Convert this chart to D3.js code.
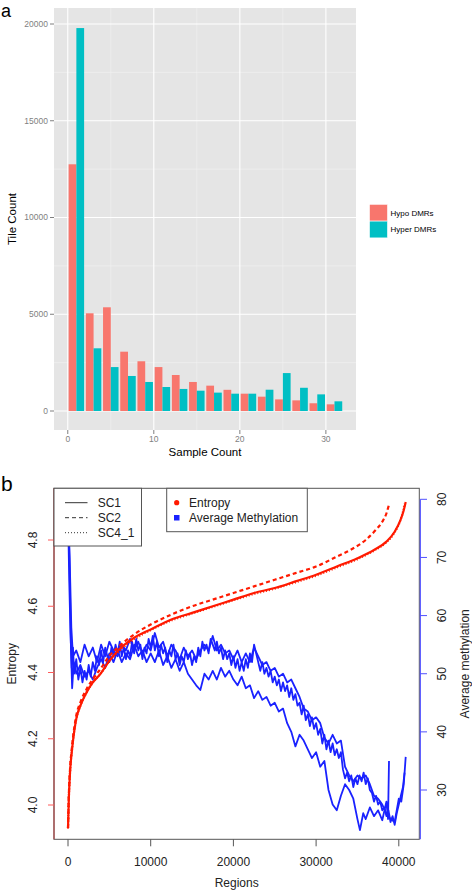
<!DOCTYPE html>
<html><head><meta charset="utf-8">
<script src="https://cdn.jsdelivr.net/npm/d3@7"></script>
<style>body{margin:0;background:#fff}svg{display:block}text{font-family:"Liberation Sans",Arial,Helvetica,sans-serif}</style>
</head><body><svg id="c" width="472" height="892"></svg>
<script>
// ---------- Panel a data ----------
const sampleBins = [1,3,5,7,9,11,13,15,17,19,21,23,25,27,29,31];
const hypoCounts = [12750,5050,5360,3065,2570,2270,1860,1500,1310,1095,895,740,600,550,400,345];
const hyperCounts = [19790,3240,2270,1810,1500,1240,1140,1050,950,895,895,1100,1960,1200,860,500];
const seriesNames = ["Hypo DMRs","Hyper DMRs"];
const seriesColors = ["#F8766D","#00BFC4"];
const xTicksA = [0,10,20,30];
const xMinorA = [5,15,25];
const yTicksA = [0,5000,10000,15000,20000];
const yMinorA = [2500,7500,12500,17500];

// ---------- Panel b data ----------
const entropySC1 = [[0,3.93],[100,4.02],[250,4.10],[500,4.17],[1000,4.26],[1500,4.30],[2250,4.34],[3000,4.37],[3900,4.395],[5000,4.435],[6000,4.465],[8000,4.505],[10000,4.53],[12500,4.56],[15000,4.58],[17500,4.60],[20000,4.62],[22500,4.64],[25000,4.655],[27500,4.675],[30000,4.695],[32500,4.72],[35000,4.745],[37000,4.77],[38500,4.795],[39500,4.825],[40200,4.86],[40600,4.89],[40835,4.915]];
const entropySC2 = [[0,3.93],[100,4.03],[250,4.11],[500,4.18],[1000,4.27],[1500,4.31],[2250,4.35],[3000,4.38],[3900,4.41],[5000,4.45],[6000,4.475],[8000,4.515],[10000,4.545],[12500,4.575],[15000,4.60],[17500,4.62],[20000,4.64],[22500,4.66],[25000,4.68],[27500,4.70],[30000,4.72],[32500,4.75],[34500,4.775],[36000,4.80],[37200,4.83],[38000,4.855],[38500,4.88],[38815,4.907]];
const entropySC4 = [[0,3.93],[100,4.02],[250,4.10],[500,4.17],[1000,4.26],[1500,4.30],[2250,4.34],[3000,4.37],[3900,4.395],[5000,4.435],[6000,4.46],[8000,4.50],[10000,4.528],[12500,4.557],[15000,4.578],[17500,4.598],[20000,4.618],[22500,4.637],[25000,4.653],[27500,4.672],[30000,4.692],[32500,4.717],[35000,4.742],[37000,4.768],[38500,4.793],[39500,4.823],[40200,4.86],[40500,4.885],[40700,4.91]];
const methSC1 = [[0,79],[200,70],[400,58],[600,53],[1000,54],[1500,52],[2000,55],[2500,53],[3000,54.5],[3500,52],[4000,55],[4500,53],[5000,55.5],[5500,54],[6000,53],[6500,55],[7000,54],[7500,56],[8000,54],[8500,55.5],[9000,53.5],[9500,55],[10000,54],[10500,57],[11000,54.5],[11500,55.5],[12000,53],[12500,55],[13000,54],[13500,52.5],[14000,54.5],[14500,53],[15000,54],[15500,52.5],[16000,54],[16500,55],[17000,54],[17500,56.5],[18000,54],[18500,55],[19000,53.5],[19500,54],[20000,52.5],[20500,54],[21000,52],[21500,53.5],[22000,52],[22500,54.5],[23000,53],[23500,51.5],[24000,52],[24500,50.5],[25000,51],[25500,49.5],[26000,50],[26500,48.5],[27000,49],[27500,47.5],[28000,46],[28500,44],[29000,43.5],[29500,42],[30000,42.5],[30500,41.5],[31000,39],[31500,38],[32000,39.5],[32500,38],[33000,38.5],[33500,34],[34000,32.5],[34500,31.5],[35000,32.5],[35500,32],[36000,32.5],[36500,31],[37000,29],[37500,28.5],[38000,27.5],[38500,26],[39000,25],[39500,24.5],[40000,28.5],[40300,28],[40600,31],[40835,35.7]];
const methSC2 = [[0,80],[200,68],[350,55],[500,47.5],[700,52],[1000,50],[1500,51.5],[2000,49.5],[2500,50.5],[3000,49],[3500,51],[4000,52.5],[4500,51],[5000,53.5],[5500,52],[6000,54],[6500,52],[7000,53.5],[7500,52.5],[8000,55],[8500,53],[9000,54],[9500,52],[10000,53.5],[10500,52],[11000,54],[11500,51.5],[12000,53],[12500,51],[13000,52.5],[13500,50.5],[14000,52],[14500,50],[15000,49],[15500,48],[16000,47.2],[16500,50],[17000,49],[17500,50.5],[18000,49],[18500,51],[19000,49.5],[19500,50.5],[20000,49],[20500,48],[21000,49.5],[21500,47.5],[22000,48],[22500,45.8],[23000,47],[23500,45.5],[24000,46],[24500,44.5],[25000,45],[25500,43.5],[26000,44],[26500,41.5],[27000,40],[27500,37.5],[28000,39.5],[28500,38.5],[29000,37],[29500,35.5],[30000,36.5],[30500,34],[31000,35],[31500,30],[32000,27.5],[32500,26.5],[33000,29],[33500,31],[34000,30],[34500,28.5],[35000,25],[35300,23.1],[35700,26],[36000,25],[36500,27],[37000,25.5],[37500,26.5],[38000,24.8],[38500,28],[38700,25],[38815,35]];
const methSC4 = [[0,78],[150,66],[300,57],[450,51],[600,54.5],[750,50],[1000,52.5],[1250,49],[1500,51],[1750,48.5],[2000,50.5],[2250,49],[2500,51.5],[2750,49.5],[3000,52],[3250,50.5],[3500,53],[3750,51.5],[4000,54],[4250,52],[4500,54.5],[4750,53],[5000,52],[5250,54.5],[5500,53],[5750,55],[6000,53.5],[6250,55.5],[6500,53],[6750,54.5],[7000,52.5],[7250,54],[7500,53],[7750,55.5],[8000,53.5],[8250,56],[8500,54],[8750,55],[9000,52.5],[9250,54.5],[9500,53.5],[9750,56],[10000,54.5],[10250,56.5],[10500,54],[10750,55.5],[11000,53],[11250,55],[11500,53.5],[11750,54.5],[12000,52],[12250,54],[12500,53],[12750,55],[13000,52.5],[13250,53.5],[13500,51.5],[13750,53],[14000,52],[14250,54],[14500,52.5],[14750,53.5],[15000,51.5],[15250,53],[15500,52],[15750,54.5],[16000,53],[16250,55.5],[16500,54],[16750,55],[17000,53.5],[17250,56],[17500,55],[17750,54],[18000,55.5],[18250,53.5],[18500,54.5],[18750,52.5],[19000,54],[19250,52.5],[19500,53.5],[19750,51.5],[20000,53],[20250,51],[20500,52.5],[20750,50.5],[21000,52],[21250,50.5],[21500,52.5],[21750,51],[22000,53.5],[22250,52],[22500,55],[22750,53.5],[23000,52],[23250,50.5],[23500,52],[23750,50],[24000,51],[24250,49.5],[24500,50.5],[24750,48.5],[25000,49.5],[25250,48],[25500,49],[25750,47],[26000,48.5],[26250,47],[26500,48],[26750,46],[27000,47.5],[27250,45.5],[27500,46.5],[27750,44.5],[28000,45],[28250,43],[28500,44.5],[28750,42],[29000,43],[29250,41],[29500,42.5],[29750,40.5],[30000,41.5],[30250,39.5],[30500,40.5],[30750,38],[31000,39.5],[31250,37],[31500,38.5],[31750,36.5],[32000,38],[32250,36],[32500,37],[32750,35.5],[33000,36.5],[33250,33.5],[33500,32],[33750,33],[34000,31.5],[34250,32.5],[34500,30.5],[34750,32],[35000,31],[35250,32.5],[35500,31.5],[35750,33],[36000,31],[36250,32],[36500,30],[36750,29.5],[37000,28],[37250,29],[37500,27.5],[37750,28],[38000,26.5],[38250,27],[38500,25.5],[38750,26.5],[39000,24.5],[39250,25.5],[39500,24],[39750,26],[40000,27.5],[40250,29],[40500,30.5],[40700,33]];
const sampleNames = ["SC1","SC2","SC4_1"];
const sampleDash = [null,"4,3","1,2"];
const measureNames = ["Entropy","Average Methylation"];
const xTicksB = [0,10000,20000,30000,40000];
const yTicksEntropy = [4.0,4.2,4.4,4.6,4.8];
const yTicksMeth = [30,40,50,60,70,80];

const svg = d3.select("#c");

// ================= Panel a =================
const pa = {l:54, r:356, t:8, b:430};
const xa = d3.scaleLinear().domain([-1.6,33.5]).range([pa.l,pa.r]);
const ya = d3.scaleLinear().domain([0,20000]).range([411,24]);
svg.append("text").attr("x",1).attr("y",16.5).attr("font-size",18).text("a");
svg.append("rect").attr("x",pa.l).attr("y",pa.t).attr("width",pa.r-pa.l).attr("height",pa.b-pa.t).attr("fill","#e5e5e5");
const ga = svg.append("g");
yMinorA.forEach(v=>ga.append("line").attr("x1",pa.l).attr("x2",pa.r).attr("y1",ya(v)).attr("y2",ya(v)).attr("stroke","#f2f2f2").attr("stroke-width",0.6));
xMinorA.forEach(v=>ga.append("line").attr("y1",pa.t).attr("y2",pa.b).attr("x1",xa(v)).attr("x2",xa(v)).attr("stroke","#f2f2f2").attr("stroke-width",0.6));
yTicksA.forEach(v=>ga.append("line").attr("x1",pa.l).attr("x2",pa.r).attr("y1",ya(v)).attr("y2",ya(v)).attr("stroke","#fff").attr("stroke-width",1.1));
xTicksA.forEach(v=>ga.append("line").attr("y1",pa.t).attr("y2",pa.b).attr("x1",xa(v)).attr("x2",xa(v)).attr("stroke","#fff").attr("stroke-width",1.1));
const barW = 0.9;
[hypoCounts,hyperCounts].forEach((vals,si)=>{
  ga.selectAll(null).data(sampleBins).enter().append("rect")
    .attr("x",d=> si===0 ? xa(d-barW) : xa(d))
    .attr("width",xa(barW)-xa(0))
    .attr("y",(d,i)=>ya(vals[i]))
    .attr("height",(d,i)=>ya(0)-ya(vals[i]))
    .attr("fill",seriesColors[si]);
});
// axes
const axA = svg.append("g").attr("font-size",8.5).attr("fill","#7f7f7f");
yTicksA.forEach(v=>{
  axA.append("line").attr("x1",pa.l-4).attr("x2",pa.l).attr("y1",ya(v)).attr("y2",ya(v)).attr("stroke","#7f7f7f");
  axA.append("text").attr("x",pa.l-6).attr("y",ya(v)).attr("dy","0.35em").attr("text-anchor","end").text(v);
});
xTicksA.forEach(v=>{
  axA.append("line").attr("y1",pa.b).attr("y2",pa.b+4).attr("x1",xa(v)).attr("x2",xa(v)).attr("stroke","#7f7f7f");
  axA.append("text").attr("x",xa(v)).attr("y",pa.b+12).attr("text-anchor","middle").text(v);
});
svg.append("text").attr("x",(pa.l+pa.r)/2).attr("y",456).attr("text-anchor","middle").attr("font-size",11.5).text("Sample Count");
svg.append("text").attr("transform",`translate(16,${(pa.t+pa.b)/2}) rotate(-90)`).attr("text-anchor","middle").attr("font-size",11.5).text("Tile Count");
// legend
seriesNames.forEach((n,i)=>{
  svg.append("rect").attr("x",369.5).attr("y",204.3+i*16.8).attr("width",18).attr("height",16.8).attr("fill",seriesColors[i]).attr("stroke","#fff").attr("stroke-width",0.6);
  svg.append("text").attr("x",390.5).attr("y",212.7+i*16.8).attr("dy","0.35em").attr("font-size",8).attr("fill","#000").text(n);
});

// ================= Panel b =================
const pb = {l:54, r:419.3, t:488.3, b:839.3};
const xb = d3.scaleLinear().domain([0,40000]).range([68,398.8]);
const ye = d3.scaleLinear().domain([4.0,4.8]).range([805,540]);
const ym = d3.scaleLinear().domain([30,80]).range([790,499.3]);
svg.append("text").attr("x",1).attr("y",491).attr("font-size",21).text("b");

const gb = svg.append("g");
const lineM = d3.line().x(d=>xb(d[0])).y(d=>ym(d[1]));
[methSC4,methSC2,methSC1].forEach(s=>{
  gb.append("path").attr("d",lineM(s)).attr("fill","none").attr("stroke","#1a22ff").attr("stroke-width",1.8).attr("stroke-linejoin","round");
});
const lineE = d3.line().x(d=>xb(d[0])).y(d=>ye(d[1])).curve(d3.curveMonotoneX);
[entropySC1,entropySC2,entropySC4].forEach((s,i)=>{
  gb.append("path").attr("d",lineE(s)).attr("fill","none").attr("stroke","#ff1a00").attr("stroke-width",2.2)
    .attr("stroke-dasharray",sampleDash[i]);
});
// box
svg.append("rect").attr("x",pb.l).attr("y",pb.t).attr("width",pb.r-pb.l).attr("height",pb.b-pb.t).attr("fill","none").attr("stroke","#555").attr("stroke-width",1);
// left axis (entropy)
svg.append("line").attr("x1",pb.l).attr("x2",pb.l).attr("y1",pb.t).attr("y2",pb.b).attr("stroke","#b04848").attr("stroke-width",1.2);
yTicksEntropy.forEach(v=>{
  svg.append("line").attr("x1",pb.l-6).attr("x2",pb.l).attr("y1",ye(v)).attr("y2",ye(v)).attr("stroke","#ff5a5a").attr("stroke-width",1);
  svg.append("text").attr("transform",`translate(37,${ye(v)}) rotate(-90)`).attr("text-anchor","middle").attr("font-size",12).attr("fill","#222").text(d3.format(".1f")(v));
});
svg.append("text").attr("transform",`translate(16,${(pb.t+pb.b)/2}) rotate(-90)`).attr("text-anchor","middle").attr("font-size",12).attr("fill","#222").text("Entropy");
// right axis (methylation)
svg.append("line").attr("x1",420.3).attr("x2",420.3).attr("y1",ym(80)).attr("y2",pb.b).attr("stroke","#5050ff").attr("stroke-width",1.2);
yTicksMeth.forEach(v=>{
  svg.append("line").attr("x1",420.3).attr("x2",427).attr("y1",ym(v)).attr("y2",ym(v)).attr("stroke","#5050ff").attr("stroke-width",1);
  svg.append("text").attr("transform",`translate(446,${ym(v)}) rotate(-90)`).attr("text-anchor","middle").attr("font-size",12).attr("fill","#222").text(v);
});
svg.append("text").attr("transform",`translate(469,${(pb.t+pb.b)/2}) rotate(-90)`).attr("text-anchor","middle").attr("font-size",12).attr("fill","#222").text("Average methylation");
// x axis
xTicksB.forEach(v=>{
  svg.append("line").attr("x1",xb(v)).attr("x2",xb(v)).attr("y1",pb.b).attr("y2",pb.b+7).attr("stroke","#555");
  svg.append("text").attr("x",xb(v)).attr("y",866).attr("text-anchor","middle").attr("font-size",12).attr("fill","#222").text(v);
});
svg.append("text").attr("x",(pb.l+pb.r)/2).attr("y",887).attr("text-anchor","middle").attr("font-size",12).attr("fill","#222").text("Regions");
// legend 1 (samples)
svg.append("rect").attr("x",pb.l).attr("y",pb.t).attr("width",87.5).attr("height",57.7).attr("fill","#fff").attr("stroke","#555");
sampleNames.forEach((n,i)=>{
  const y = 502.7+i*15;
  svg.append("line").attr("x1",65).attr("x2",87.5).attr("y1",y).attr("y2",y).attr("stroke","#333").attr("stroke-width",1).attr("stroke-dasharray",sampleDash[i]);
  svg.append("text").attr("x",97.7).attr("y",y).attr("dy","0.35em").attr("font-size",12).attr("fill","#222").text(n);
});
// legend 2 (measures)
svg.append("rect").attr("x",166.7).attr("y",pb.t).attr("width",140.6).attr("height",43.4).attr("fill","#fff").attr("stroke","#555");
svg.append("circle").attr("cx",176.7).attr("cy",502.7).attr("r",2.6).attr("fill","#ff1a00");
svg.append("rect").attr("x",174).attr("y",515).attr("width",5.5).attr("height",5.5).attr("fill","#1a22ff");
measureNames.forEach((n,i)=>{
  svg.append("text").attr("x",189).attr("y",502.7+i*15).attr("dy","0.35em").attr("font-size",12).attr("fill","#222").text(n);
});
</script></body></html>
